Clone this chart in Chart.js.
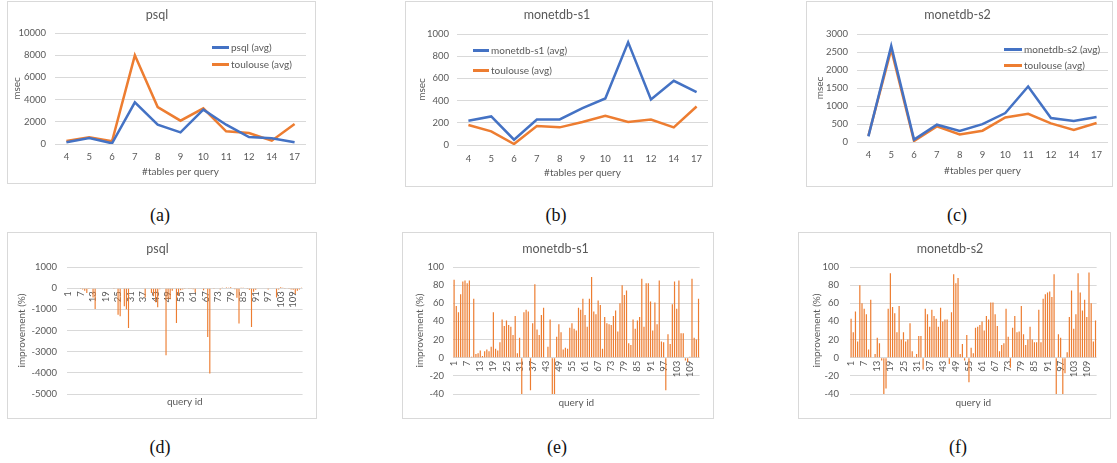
<!DOCTYPE html>
<html>
<head>
<meta charset="utf-8">
<script src="https://cdn.jsdelivr.net/npm/chart.js@4"></script>
<style>
  body { margin: 0; width: 1117px; height: 463px; background: #fff; position: relative; overflow: hidden; font-family: Lato, sans-serif; }
  .box { position: absolute; border: 1px solid #d9d9d9; background: #fff; }
  .box canvas { position: absolute; left: 0; top: 0; }
  .cap { position: absolute; font-family: "Liberation Serif", serif; font-size: 18px; color: #111; transform: translate(-50%, -50%); }
  .leg { position: absolute; font-size: 10px; line-height: 14px; color: #595959; white-space: nowrap; }
  .leg i { position: absolute; height: 3px; top: 6px; }
</style>
</head>
<body>

<div class="cap" style="left:160px;top:215px">(a)</div>
<div class="cap" style="left:556px;top:215px">(b)</div>
<div class="cap" style="left:957px;top:215px">(c)</div>
<div class="cap" style="left:160px;top:447px">(d)</div>
<div class="cap" style="left:557px;top:447px">(e)</div>
<div class="cap" style="left:958px;top:447px">(f)</div>

<script>
// === DATA === //

const tableCounts = ['4', '5', '6', '7', '8', '9', '10', '11', '12', '14', '17']

const psqlAvg = [150, 540, 60, 3750, 1740, 1050, 3090, 1740, 630, 510, 150]
const psqlToulouse = [270, 600, 240, 7990, 3330, 2100, 3210, 1140, 990, 300, 1800]
const s1Avg = [219, 257, 48, 230, 230, 332, 419, 925, 410, 578, 476]
const s1Toulouse = [180, 123, 9, 171, 159, 207, 263, 207, 230, 159, 347]
const s2Avg = [157, 2665, 65, 480, 304, 498, 803, 1541, 664, 581, 692]
const s2Toulouse = [175, 2574, 28, 434, 212, 314, 683, 784, 517, 332, 526]

// query ids 1..113
const queryIds = Array.from({ length: 113 }, (_, i) => String(i + 1))

const psqlImprovement = [
  0, 0, 0, 0, 0, 0, -20, -60, -125, -230,
  -40, 0, -440, -980, 0, 0, 0, 0, 0, 0,
  0, 0, -20, -30, -1260, -1330, 0, -850, -1000, -1880,
  20, 0, 0, 0, 0, 0, 0, -440, 0, 0,
  -230, -360, -670, -900, -50, 0, 0, -3170, -520, -520,
  -125, -30, -1650, -360, -100, -60, -40, 0, -20, -40,
  -50, -200, 0, -30, 0, -100, 0, -2310, -4030, 0,
  -40, 20, 0, -60, 30, 20, 40, 30, 50, 20,
  -50, -450, -1670, 30, 30, 20, -40, -80, -1840, -170,
  -80, 0, 20, 0, 0, 0, -60, 0, 0, 0,
  -440, -60, 50, 30, -20, 0, -40, -60, -80, -280,
  -120, -60, 30
]

const s1Improvement = [
  86, 57, 50, 70, 84, 85, 82, 85, 1, 65,
  4, 5, 8, 2, 7, 9, 7, 12, 50, 10,
  8, 17, 42, 35, 41, 36, 34, 25, 46, 5,
  22, -42, 50, 53, 51, -36, 38, 81, 31, 25,
  47, 55, 0, 12, 42, -42, -42, 23, 37, 28,
  9, 11, 10, 33, 38, 32, 30, 55, 53, 65,
  47, 34, 65, 89, 51, 48, 63, 58, 10, 45,
  38, 37, 36, 46, 52, 29, 60, 80, 69, 74,
  16, 14, 42, 32, 41, 45, 87, 34, 82, 82,
  62, 30, 61, 37, 85, 18, 17, -36, 26, 15,
  59, 84, 54, 85, 27, 27, -3, -5, 1, 87,
  22, 20, 65
]

const s2Improvement = [
  43, 28, 51, 18, 80, 60, 54, 48, 9, 64,
  0, 4, 22, 16, -3, -42, -34, 54, 93, 56,
  49, 28, 57, 20, 28, 18, 20, 38, 7, 1,
  4, 24, 24, -13, 54, 48, 34, 53, 46, 43,
  34, 55, 40, 42, 42, -7, 50, 92, 82, 88,
  4, 15, -3, 25, -27, 11, 5, 33, 34, 36,
  40, 30, 46, 42, 61, 61, 48, 35, 7, 14,
  16, 54, 23, -11, 33, 46, 28, 29, 57, 26,
  14, 20, 34, 20, 17, 17, 53, 17, 65, 70,
  72, 73, 67, 92, -42, 26, 22, -42, -17, 6,
  45, 74, 32, 48, 93, 72, 52, 64, 45, 94,
  60, 18, 41
]

// === UI === //

const GRID = '#d9d9d9'
const TEXT = '#595959'
const BLUE = '#4472C4'
const ORANGE = '#ED7D31'

Chart.defaults.font.family = 'Lato, sans-serif'
Chart.defaults.color = TEXT

const TITLE_LH = 12.5 * 1.2
const AXIS_LH = 10 * 1.2
const TICK_LH = 9.5 * 1.2

function makeBox(p) {
  const box = document.createElement('div')
  box.className = 'box'
  box.style.left = (p.x - 1) + 'px'
  box.style.top = (p.y - 1) + 'px'
  box.style.width = p.w + 'px'
  box.style.height = p.h + 'px'
  const canvas = document.createElement('canvas')
  canvas.width = p.w
  canvas.height = p.h
  box.appendChild(canvas)
  document.body.appendChild(box)
  return canvas
}

function titleOptions(p) {
  return {
    display: true,
    text: p.title,
    color: TEXT,
    font: { size: 12.5, weight: 'normal' },
    padding: { top: p.titleY - TITLE_LH / 2, bottom: p.plotTop - p.titleY - TITLE_LH / 2 }
  }
}

function yAxis(p, label) {
  return {
    min: p.yMin || 0,
    max: p.yMax,
    ticks: { stepSize: p.yStep, font: { size: 9.5 }, padding: p.yTickPad, callback: v => String(v) },
    grid: { color: GRID, drawTicks: false },
    border: { display: false },
    title: { display: true, text: label, font: { size: 10 }, padding: { top: Math.max(0, p.yTitleX - AXIS_LH / 2), bottom: 0 } },
    afterFit: scale => { scale.width = p.plotLeft }
  }
}

function setupLineChart(p) {
  new Chart(makeBox(p), {
    type: 'line',
    data: {
      labels: tableCounts,
      datasets: [
        { label: p.names[0], data: p.series[0], borderColor: BLUE, backgroundColor: BLUE, borderWidth: 2.5, pointRadius: 0, tension: 0 },
        { label: p.names[1], data: p.series[1], borderColor: ORANGE, backgroundColor: ORANGE, borderWidth: 2.5, pointRadius: 0, tension: 0 }
      ]
    },
    options: {
      responsive: false,
      animation: false,
      layout: { padding: { left: 0, top: 0, bottom: 0, right: p.plotRight } },
      plugins: { legend: { display: false }, tooltip: { enabled: false }, title: titleOptions(p) },
      scales: {
        x: {
          offset: true,
          grid: { display: false, drawTicks: false },
          border: { display: false },
          ticks: { font: { size: 9.5 }, padding: p.xTickY - p.plotBottom - TICK_LH / 2, maxRotation: 0, autoSkip: false },
          title: { display: true, text: '#tables per query', font: { size: 10 }, padding: { top: 0, bottom: p.h - p.xTitleY - AXIS_LH / 2 } },
          afterFit: scale => { scale.height = p.h - p.plotBottom }
        },
        y: yAxis(p, 'msec')
      }
    }
  })
}

function setupBarChart(p) {
  new Chart(makeBox(p), {
    type: 'bar',
    data: {
      labels: queryIds,
      datasets: [{ label: 'improvement', data: p.values, backgroundColor: ORANGE, barPercentage: 0.55, categoryPercentage: 1, xAxisID: 'x', yAxisID: 'y' }]
    },
    options: {
      responsive: false,
      animation: false,
      layout: { padding: { left: 0, top: 0, bottom: 0, right: p.plotRight } },
      plugins: { legend: { display: false }, tooltip: { enabled: false }, title: titleOptions(p) },
      scales: {
        x: {
          position: { y: 0 },
          grid: { display: false, drawTicks: false },
          border: { display: false },
          ticks: {
            autoSkip: false, minRotation: 90, maxRotation: 90, padding: 3, font: { size: 9.5 },
            callback: function (v, i) { return i % 6 === 0 ? this.getLabelForValue(v) : '' }
          }
        },
        xq: {
          type: 'category',
          axis: 'x',
          position: 'bottom',
          grid: { display: false, drawTicks: false },
          border: { display: false },
          ticks: { display: false },
          title: { display: true, text: 'query id', font: { size: 10 }, padding: { top: 0, bottom: p.h - p.xTitleY - AXIS_LH / 2 } },
          afterFit: scale => { scale.height = p.h - p.plotBottom }
        },
        y: yAxis(p, 'improvement (%)')
      }
    }
  })
}

// legends sit inside the plot area, like the original
function addLegend(lineX, lineW, textX, rows) {
  rows.forEach(row => {
    document.body.insertAdjacentHTML('beforeend',
      `<div class="leg" style="left:${lineX}px;top:${row.y - 7}px;padding-left:${textX - lineX}px"><i style="left:0;width:${lineW}px;background:${row.color}"></i>${row.text}</div>`)
  })
}

setupLineChart({ x: 8, y: 2, w: 307, h: 181, title: 'psql', names: ['psql (avg)', 'toulouse (avg)'], series: [psqlAvg, psqlToulouse],
  yMax: 10000, yStep: 2000, plotLeft: 47, plotRight: 9, plotTop: 31, plotBottom: 142, titleY: 13, yTitleX: 9, xTickY: 155, xTitleY: 170, yTickPad: 9 })
setupLineChart({ x: 406, y: 2, w: 306, h: 184, title: 'monetdb-s1', names: ['monetdb-s1 (avg)', 'toulouse (avg)'], series: [s1Avg, s1Toulouse],
  yMax: 1000, yStep: 200, plotLeft: 51, plotRight: 4, plotTop: 32, plotBottom: 143, titleY: 13, yTitleX: 16, xTickY: 157, xTitleY: 171, yTickPad: 8 })
setupLineChart({ x: 807, y: 2, w: 305, h: 184, title: 'monetdb-s2', names: ['monetdb-s2 (avg)', 'toulouse (avg)'], series: [s2Avg, s2Toulouse],
  yMax: 3000, yStep: 500, plotLeft: 50, plotRight: 4, plotTop: 32, plotBottom: 140, titleY: 13, yTitleX: 13, xTickY: 153, xTitleY: 169, yTickPad: 9 })

setupBarChart({ x: 8, y: 233, w: 308, h: 185, title: 'psql', values: psqlImprovement,
  yMin: -5000, yMax: 1000, yStep: 1000, plotLeft: 59, plotRight: 9, plotTop: 34, plotBottom: 161, titleY: 16, yTitleX: 14, xTitleY: 169, yTickPad: 10 })
setupBarChart({ x: 403, y: 233, w: 310, h: 185, title: 'monetdb-s1', values: s1Improvement,
  yMin: -40, yMax: 100, yStep: 20, plotLeft: 50, plotRight: 5, plotTop: 34, plotBottom: 161, titleY: 16, yTitleX: 17, xTitleY: 170, yTickPad: 9 })
setupBarChart({ x: 799, y: 233, w: 311, h: 185, title: 'monetdb-s2', values: s2Improvement,
  yMin: -40, yMax: 100, yStep: 20, plotLeft: 51, plotRight: 9, plotTop: 34, plotBottom: 161, titleY: 16, yTitleX: 18, xTitleY: 170, yTickPad: 11 })

addLegend(212, 17, 231, [{ y: 47, color: BLUE, text: 'psql (avg)' }, { y: 64, color: ORANGE, text: 'toulouse (avg)' }])
addLegend(473, 16, 491, [{ y: 50, color: BLUE, text: 'monetdb-s1 (avg)' }, { y: 70, color: ORANGE, text: 'toulouse (avg)' }])
addLegend(1004, 18, 1024, [{ y: 49, color: BLUE, text: 'monetdb-s2 (avg)' }, { y: 65, color: ORANGE, text: 'toulouse (avg)' }])
</script>
</body>
</html>
